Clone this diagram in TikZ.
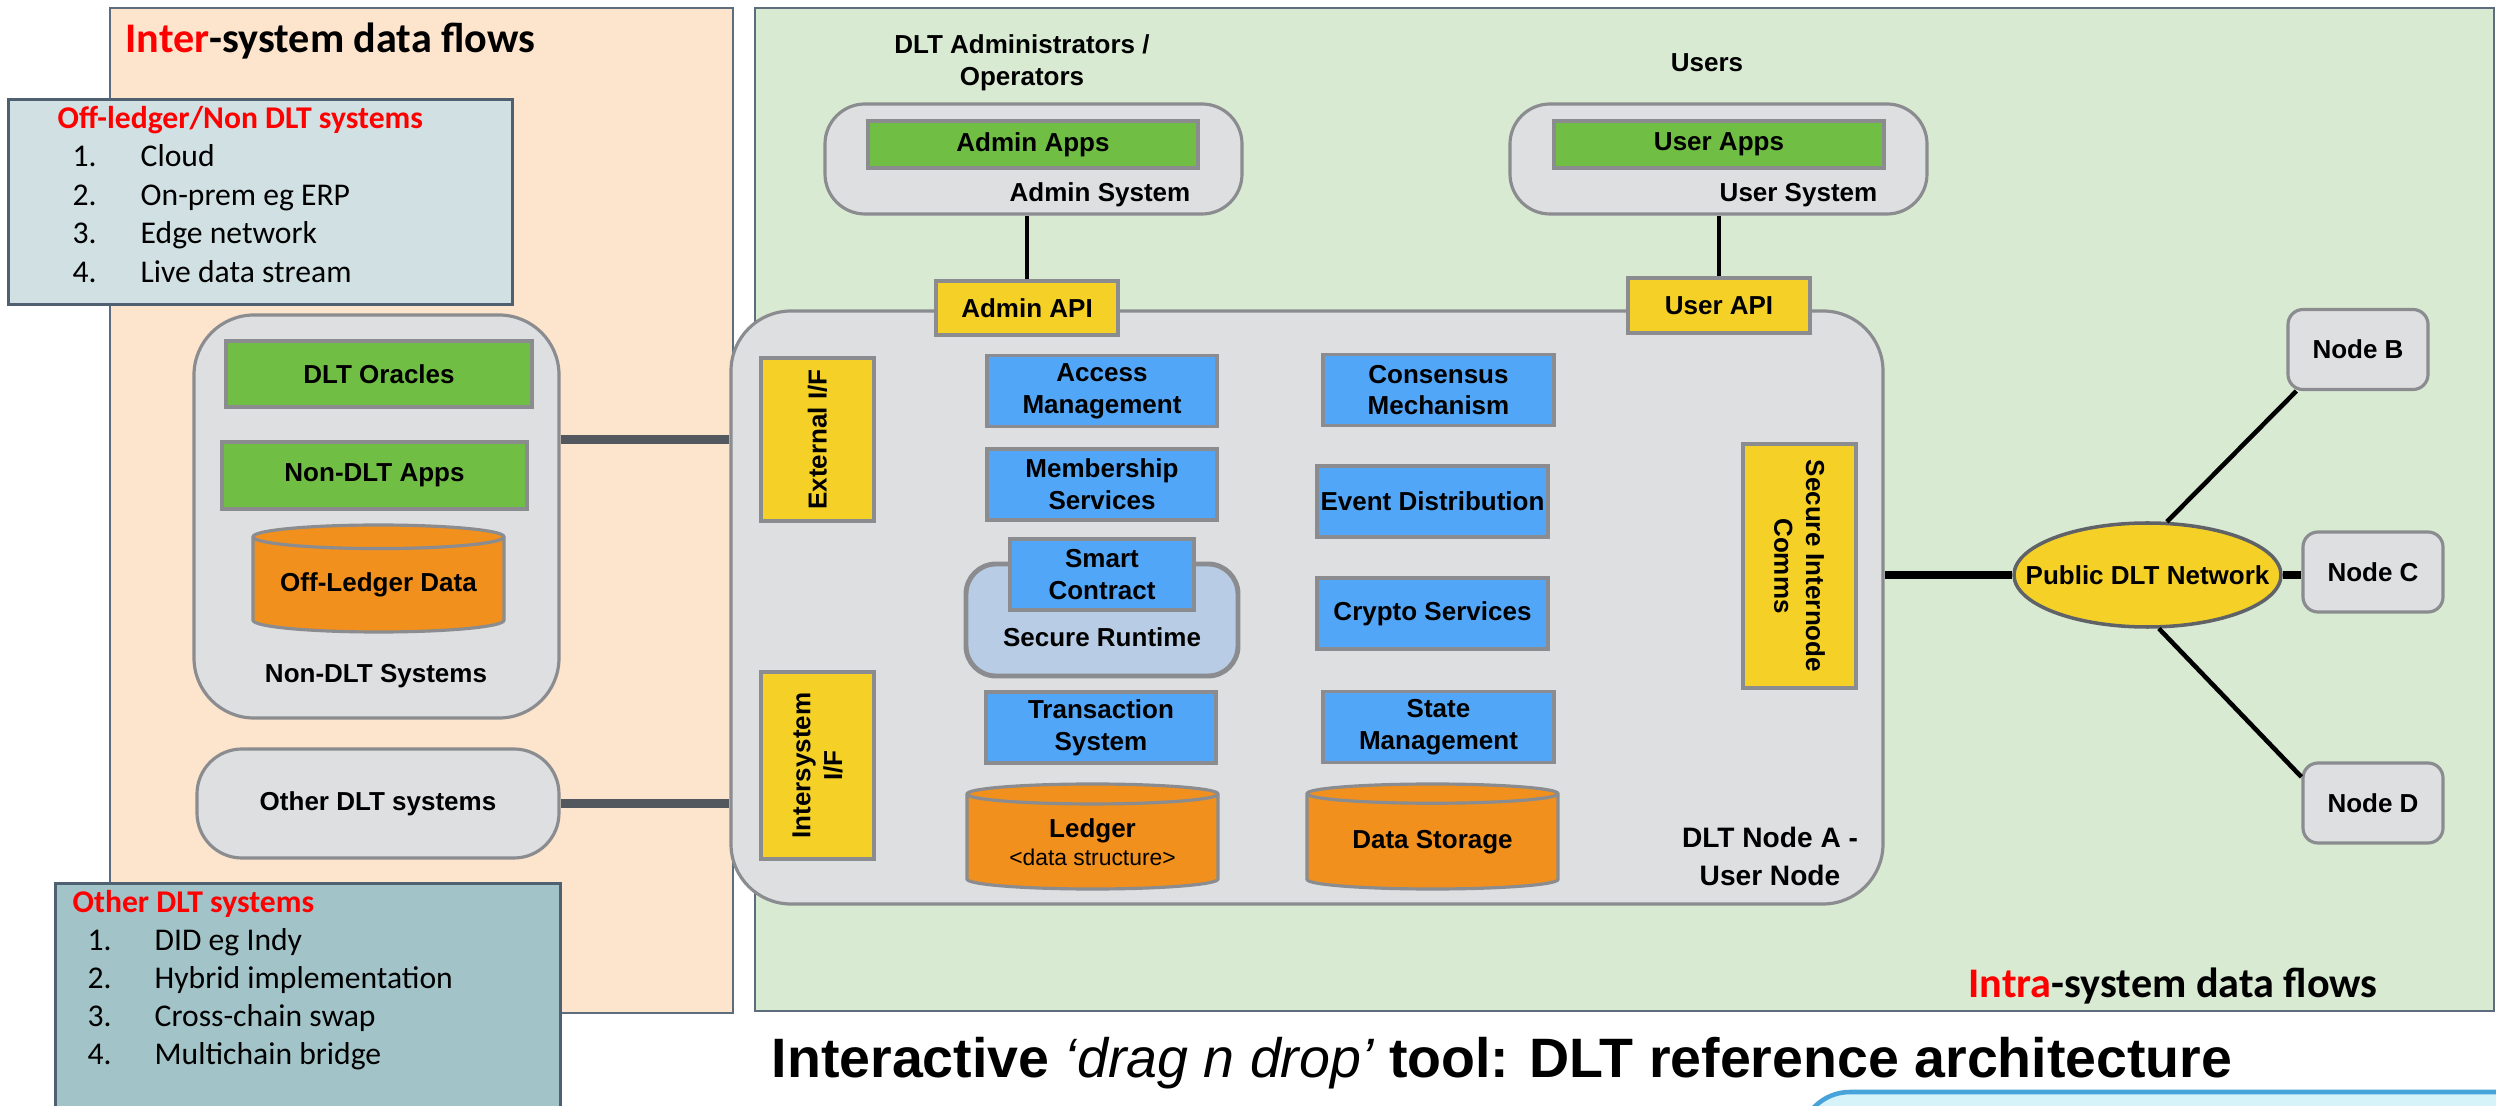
\documentclass[tikz,border=0pt]{standalone}
\usepackage{fontspec}
\setmainfont{Liberation Sans}
\newfontfamily\calibri{Carlito}
\usepackage{tikz}
\usetikzlibrary{positioning}
\usetikzlibrary{shapes.geometric}

\definecolor{peach}{HTML}{FCE4CD}
\definecolor{panelgreen}{HTML}{D9EAD3}
\definecolor{panelborder}{HTML}{5D6D7E}
\definecolor{listlight}{HTML}{D0E0E3}
\definecolor{listdark}{HTML}{A2C4C9}
\definecolor{listborder}{HTML}{4F6070}
\definecolor{boxgray}{HTML}{DEDFE1}
\definecolor{boxborder}{HTML}{8A8C90}
\definecolor{appgreen}{HTML}{70BF44}
\definecolor{apiyellow}{HTML}{F5D128}
\definecolor{svcblue}{HTML}{52A6F8}
\definecolor{dataorange}{HTML}{F1901D}
\definecolor{runtimeblue}{HTML}{B8CDE5}
\definecolor{linkgray}{HTML}{53575E}
\definecolor{netborder}{HTML}{5F6368}
\definecolor{toolblue}{HTML}{47A3D9}
\definecolor{toolcyan}{HTML}{D5F3F8}

\newcommand{\dltfont}{\fontsize{7.4}{9}\selectfont\bfseries}
\newcommand{\listfont}{\calibri\fontsize{9}{10.8}\selectfont}

\tikzset{
  mypanel/.style={
    draw=panelborder,
    line width=0.7pt,
    anchor=north west,
    inner sep=0pt,
  },
  mylistbox/.style={
    draw=listborder,
    line width=0.8pt,
    anchor=north west,
    inner sep=0pt,
  },
  mytext/.style={
    inner sep=0pt,
    anchor=base west,
  },
  mysystem/.style={
    draw=boxborder,
    fill=boxgray,
    line width=0.9pt,
    rounded corners=0.4cm,
    inner sep=0pt,
  },
  myapp/.style={
    draw=boxborder,
    fill=appgreen,
    line width=0.9pt,
    inner sep=0pt,
    font=\dltfont
  },
  myapi/.style={
    draw=boxborder,
    fill=apiyellow,
    line width=0.9pt,
    inner sep=0pt,
    align=center,
    font=\dltfont
  },
  myservice/.style={
    draw=boxborder,
    fill=svcblue,
    line width=0.9pt,
    inner sep=0pt,
    align=center,
    minimum width=2.30cm,
    minimum height=0.71cm,
    font=\dltfont
  },
  mystore/.style={
    cylinder,
    shape border rotate=90,
    aspect=0.12,
    anchor=shape center,
    draw=boxborder,
    fill=dataorange,
    line width=0.9pt,
    inner sep=0pt,
    align=center,
    font=\dltfont
  },
  mypeer/.style={
    draw=boxborder,
    fill=boxgray,
    line width=0.9pt,
    rounded corners=0.15cm,
    minimum width=1.40cm,
    minimum height=0.80cm,
    font=\dltfont
  },
  mylink/.style={
    draw=linkgray,
    line width=2.3pt,
  },
  mywire/.style={
    draw=black,
    line width=1.4pt,
  },
}

\begin{document}
\begin{tikzpicture}
  \useasboundingbox (0,0) rectangle (24.96,-11.06);

  % the two flow panels
  \node[mypanel, fill=peach, minimum width=6.23cm, minimum height=10.05cm] (interpanel) at (1.09,-0.07) {};
  \node[mypanel, fill=panelgreen, minimum width=17.39cm, minimum height=10.03cm] (intrapanel) at (7.54,-0.07) {};
  \node[mytext, font=\calibri\bfseries\fontsize{12}{14}\selectfont] (interhead) at (1.25,-0.53) {\textcolor{red}{Inter}-system data flows};
  \node[mytext, font=\calibri\bfseries\fontsize{12}{14}\selectfont] (intrahead) at (19.68,-9.97) {\textcolor{red}{Intra}-system data flows};

  % list of off-ledger systems
  \node[mylistbox, fill=listlight, minimum width=5.04cm, minimum height=2.05cm] (offbox) at (0.07,-0.98) {};
  \node[mytext, font=\listfont\bfseries, text=red] (offhead) at (0.57,-1.285) {Off-ledger/Non DLT systems};
  \foreach \t [count=\i] in {Cloud, On-prem eg ERP, Edge network, Live data stream} {
    \node[mytext, font=\listfont] (offnum\i) at (0.72,{-1.285-0.385*\i}) {\i.};
    \node[mytext, font=\listfont] (offitem\i) at (1.40,{-1.285-0.385*\i}) {\t};
  }

  % list of other DLT systems
  \node[mylistbox, fill=listdark, minimum width=5.05cm, minimum height=2.60cm] (otherbox) at (0.54,-8.82) {};
  \node[mytext, font=\listfont\bfseries, text=red] (otherhead) at (0.72,-9.12) {Other DLT systems};
  \foreach \t [count=\i] in {DID eg Indy, Hybrid implementation, Cross-chain swap, Multichain bridge} {
    \node[mytext, font=\listfont] (othernum\i) at (0.87,{-9.12-0.38*\i}) {\i.};
    \node[mytext, font=\listfont] (otheritem\i) at (1.54,{-9.12-0.38*\i}) {\t};
  }

  % non-DLT side
  \node[mysystem, rounded corners=0.6cm, minimum width=3.65cm, minimum height=4.03cm] (nondlt) at (3.765,-5.165) {};
  \node[myapp, minimum width=3.06cm, minimum height=0.66cm] (oracles) at (3.79,-3.74) {DLT Oracles};
  \node[myapp, minimum width=3.05cm, minimum height=0.67cm] (nondltapps) at (3.745,-4.755) {Non-DLT Apps};
  \node[mystore, minimum width=2.51cm, minimum height=1.07cm] (offledger) at (3.785,-5.785) {Off-Ledger Data};
  \node[font=\dltfont] (nondltlabel) at (3.76,-6.76) {Non-DLT Systems};
  \node[mysystem, rounded corners=0.45cm, minimum width=3.62cm, minimum height=1.09cm, font=\dltfont] (otherdlt) at (3.78,-8.035) {Other DLT systems};

  % DLT node A
  \node[mysystem, rounded corners=0.6cm, minimum width=11.52cm, minimum height=5.93cm] (nodea) at (13.07,-6.075) {};
  \node[font=\fontsize{8}{10.8}\selectfont\bfseries, align=center] (nodealabel) at (17.70,-8.56) {DLT Node A -\\User Node};

  % admin and user systems
  \node[font=\dltfont, align=center] (admins) at (10.22,-0.625) {DLT Administrators /\\Operators};
  \node[font=\dltfont] (users) at (17.07,-0.63) {Users};
  \node[mysystem, minimum width=4.17cm, minimum height=1.10cm] (adminsys) at (10.335,-1.59) {};
  \node[myapp, minimum width=3.30cm, minimum height=0.47cm] (adminapps) at (10.33,-1.445) {Admin Apps};
  \node[font=\dltfont, inner sep=0pt, anchor=east] (adminsyslabel) at (11.91,-1.95) {Admin System};
  \node[mysystem, minimum width=4.17cm, minimum height=1.10cm] (usersys) at (17.185,-1.59) {};
  \node[myapp, minimum width=3.30cm, minimum height=0.47cm] (userapps) at (17.19,-1.445) {User Apps};
  \node[font=\dltfont, inner sep=0pt, anchor=east] (usersyslabel) at (18.78,-1.95) {User System};
  \node[myapi, minimum width=1.82cm, minimum height=0.54cm] (adminapi) at (10.27,-3.08) {Admin API};
  \node[myapi, minimum width=1.82cm, minimum height=0.55cm] (userapi) at (17.19,-3.055) {User API};
  \draw[mywire] (adminapi.north |- adminsys.south) -- (adminapi.north);
  \draw[mywire] (userapi.north |- usersys.south) -- (userapi.north);

  % interfaces
  \node[myapi, rotate=90, minimum width=1.63cm, minimum height=1.13cm] (extif) at (8.175,-4.395) {External I/F};
  \node[myapi, rotate=90, minimum width=1.87cm, minimum height=1.13cm] (intersys) at (8.175,-7.655) {Intersystem\\I/F};
  \node[myapi, rotate=-90, minimum width=2.44cm, minimum height=1.13cm] (internode) at (17.995,-5.66) {Secure Internode\\Comms};

  % services
  \node[myservice] (access) at (11.02,-3.91) {Access\\Management};
  \node[myservice] (membership) at (11.02,-4.845) {Membership\\Services};
  \node[draw=boxborder, fill=runtimeblue, line width=1.4pt, rounded corners=0.3cm, minimum width=2.72cm, minimum height=1.12cm] (runtime) at (11.02,-6.20) {};
  \node[myservice, minimum width=1.84cm] (smart) at (11.02,-5.745) {Smart\\Contract};
  \node[font=\dltfont] (runtimelabel) at (11.02,-6.37) {Secure Runtime};
  \node[myservice] (transaction) at (11.01,-7.275) {Transaction\\System};
  \node[mystore, minimum width=2.51cm, minimum height=1.05cm] (ledger) at (10.925,-8.365) {Ledger\\[-1pt]{\mdseries\fontsize{6.5}{8}\selectfont <data structure>}};
  \node[myservice, minimum width=2.31cm] (consensus) at (14.385,-3.90) {Consensus\\Mechanism};
  \node[myservice, minimum width=2.31cm] (event) at (14.325,-5.015) {Event Distribution};
  \node[myservice, minimum width=2.31cm] (crypto) at (14.325,-6.135) {Crypto Services};
  \node[myservice, minimum width=2.31cm] (state) at (14.385,-7.27) {State\\Management};
  \node[mystore, minimum width=2.51cm, minimum height=1.05cm] (datastore) at (14.325,-8.365) {Data Storage};

  % links into node A
  \draw[mylink] (extif.south -| nondlt.east) -- (extif.south -| nodea.west);
  \draw[mylink] (otherdlt.east) -- (otherdlt.east -| nodea.west);

  % public network
  \node[ellipse, draw=netborder, fill=apiyellow, line width=1pt, minimum width=2.67cm, minimum height=1.04cm, inner xsep=-9pt, inner ysep=0pt, font=\dltfont] (network) at (21.475,-5.75) {Public DLT Network};
  \node[mypeer] (nodeb) at (23.58,-3.495) {Node B};
  \node[mypeer] (nodec) at (23.73,-5.72) {Node C};
  \node[mypeer] (noded) at (23.73,-8.03) {Node D};
  \draw[black, line width=2pt] (network.west -| nodea.east) -- (network.west);
  \draw[black, line width=2pt] (network.east) -- (network.east -| nodec.west);
  \draw[black, line width=1.3pt] (network.70) -- (nodeb.214);
  \draw[black, line width=1.3pt] (network.-78) -- (noded.160);

  % title and tool panel
  \node[mytext, font=\fontsize{15.8}{18}\selectfont\bfseries] (title) at (7.71,-10.77) {Interactive {\mdseries\itshape ‘drag n drop’} tool: DLT reference architecture};
  \draw[draw=toolblue, fill=toolcyan, line width=1.3pt, rounded corners=0.5cm] (18.0,-10.92) rectangle (25.6,-11.9);
\end{tikzpicture}
\end{document}
